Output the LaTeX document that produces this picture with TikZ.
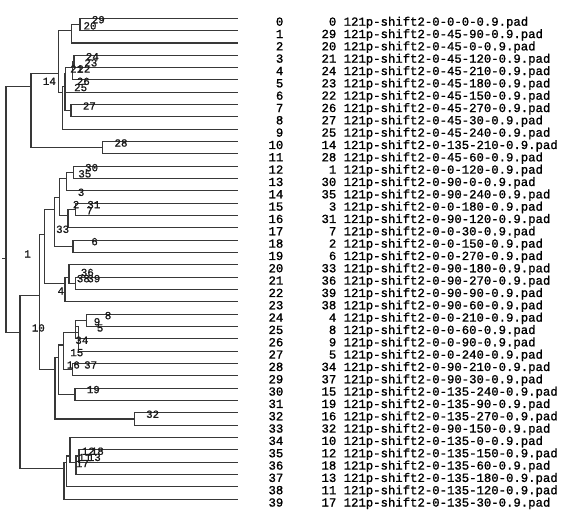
\documentclass[tikz,border=0pt]{standalone}
\usepackage{fontspec}
\setmonofont{Liberation Mono}[FakeBold=1.2]
\usepackage{tikz}

\tikzset{
    % Dendrogram lines
    branch/.style={
        draw=black!78,
        line width=1.1pt
    },
    % Leaf id written at each merge
    merge label/.style={
        anchor=base east,
        inner sep=0pt,
        text=black!90,
        font=\ttfamily\fontsize{10.8}{12}\selectfont
    },
    % Table on the right
    row index/.style={
        anchor=base east,
        inner sep=0pt,
        font=\ttfamily\fontsize{12.3}{14}\selectfont
    },
    row leaf/.style={
        row index
    },
    row file/.style={
        row index,
        anchor=base west
    }
}

\begin{document}
\begin{tikzpicture}[x=1pt, y=-12.33pt]
    \useasboundingbox (0pt,0pt) rectangle (568pt,-521pt);
    \begin{scope}[yshift=-18.3pt]
        % Leaves and their rows of text
        \foreach \row/\leaf/\fname in {
            0/0/121p-shift2-0-0-0-0.9.pad,
            1/29/121p-shift2-0-45-90-0.9.pad,
            2/20/121p-shift2-0-45-0-0.9.pad,
            3/21/121p-shift2-0-45-120-0.9.pad,
            4/24/121p-shift2-0-45-210-0.9.pad,
            5/23/121p-shift2-0-45-180-0.9.pad,
            6/22/121p-shift2-0-45-150-0.9.pad,
            7/26/121p-shift2-0-45-270-0.9.pad,
            8/27/121p-shift2-0-45-30-0.9.pad,
            9/25/121p-shift2-0-45-240-0.9.pad,
            10/14/121p-shift2-0-135-210-0.9.pad,
            11/28/121p-shift2-0-45-60-0.9.pad,
            12/1/121p-shift2-0-0-120-0.9.pad,
            13/30/121p-shift2-0-90-0-0.9.pad,
            14/35/121p-shift2-0-90-240-0.9.pad,
            15/3/121p-shift2-0-0-180-0.9.pad,
            16/31/121p-shift2-0-90-120-0.9.pad,
            17/7/121p-shift2-0-0-30-0.9.pad,
            18/2/121p-shift2-0-0-150-0.9.pad,
            19/6/121p-shift2-0-0-270-0.9.pad,
            20/33/121p-shift2-0-90-180-0.9.pad,
            21/36/121p-shift2-0-90-270-0.9.pad,
            22/39/121p-shift2-0-90-90-0.9.pad,
            23/38/121p-shift2-0-90-60-0.9.pad,
            24/4/121p-shift2-0-0-210-0.9.pad,
            25/8/121p-shift2-0-0-60-0.9.pad,
            26/9/121p-shift2-0-0-90-0.9.pad,
            27/5/121p-shift2-0-0-240-0.9.pad,
            28/34/121p-shift2-0-90-210-0.9.pad,
            29/37/121p-shift2-0-90-30-0.9.pad,
            30/15/121p-shift2-0-135-240-0.9.pad,
            31/19/121p-shift2-0-135-90-0.9.pad,
            32/16/121p-shift2-0-135-270-0.9.pad,
            33/32/121p-shift2-0-90-150-0.9.pad,
            34/10/121p-shift2-0-135-0-0.9.pad,
            35/12/121p-shift2-0-135-150-0.9.pad,
            36/18/121p-shift2-0-135-60-0.9.pad,
            37/13/121p-shift2-0-135-180-0.9.pad,
            38/11/121p-shift2-0-135-120-0.9.pad,
            39/17/121p-shift2-0-135-30-0.9.pad}{
            \coordinate (l\row) at (237.5,\row);
            \node[row index] (idx\row) at (283.5,\row+0.6) {\row};
            \node[row leaf] (leaf\row) at (336.5,\row+0.6) {\leaf};
            \node[row file] (file\row) at (343.5,\row+0.6) {\fname};
        }

        % Merge points, upper block
        \coordinate (n0-1) at (80,0.5);
        \coordinate (n0-2) at (71.7,1);
        \coordinate (n3-4) at (74,3.5);
        \coordinate (n3-5) at (72.5,4);
        \coordinate (n3-6) at (65.5,4.5);
        \coordinate (n7-8) at (71,7.5);
        \coordinate (n3-8) at (65,5.5);
        \coordinate (n3-9) at (62.3,6);
        \coordinate (n0-9) at (58.3,4.5);
        \coordinate (n10-11) at (102.7,10.5);
        \coordinate (n0-11) at (31,5.5);
        \coordinate (n0-39) at (6,19.5);
        \coordinate (stub) at (2,19.5);
        % Merge points, middle block
        \coordinate (n12-13) at (73.3,12.5);
        \coordinate (n12-14) at (66.5,13);
        \coordinate (n15-16) at (75.5,15.5);
        \coordinate (n15-17) at (68,16);
        \coordinate (n12-17) at (59.5,14.5);
        \coordinate (n18-19) at (73,18.5);
        \coordinate (n12-19) at (54.5,15.5);
        \coordinate (n21-22) at (75.5,21.5);
        \coordinate (n20-22) at (69,21);
        \coordinate (n20-23) at (65,21.5);
        \coordinate (n12-23) at (44.3,17.5);
        \coordinate (n24-25) at (86.5,24.5);
        \coordinate (n24-26) at (75.5,25);
        \coordinate (n24-27) at (78.5,25.5);
        \coordinate (n28-29) at (72.3,28.5);
        \coordinate (n24-29) at (63.5,26.5);
        \coordinate (n30-31) at (75,30.5);
        \coordinate (n24-31) at (58.5,27.5);
        \coordinate (n32-33) at (134.3,32.5);
        \coordinate (n24-33) at (55,28.5);
        \coordinate (n12-33) at (39.3,22.5);
        % Merge points, lower block
        \coordinate (n35-36) at (79,35.5);
        \coordinate (n35-37) at (76,36);
        \coordinate (n34-37) at (70,35.5);
        \coordinate (n34-38) at (66.5,36);
        \coordinate (n34-39) at (64,36.5);
        \coordinate (n12-39) at (20,25.5);

        % Branches
        \draw[branch] (stub) -- (n0-39);
        \foreach \p/\c in {
            n0-1/l0, n0-1/l1, n0-2/n0-1, n0-2/l2,
            n3-4/l3, n3-4/l4, n3-5/n3-4, n3-5/l5, n3-6/n3-5, n3-6/l6,
            n7-8/l7, n7-8/l8, n3-8/n3-6, n3-8/n7-8, n3-9/n3-8, n3-9/l9,
            n0-9/n0-2, n0-9/n3-9, n10-11/l10, n10-11/l11,
            n0-11/n0-9, n0-11/n10-11, n0-39/n0-11, n0-39/n12-39,
            n12-13/l12, n12-13/l13, n12-14/n12-13, n12-14/l14,
            n15-16/l15, n15-16/l16, n15-17/n15-16, n15-17/l17,
            n12-17/n12-14, n12-17/n15-17, n18-19/l18, n18-19/l19,
            n12-19/n12-17, n12-19/n18-19,
            n21-22/l21, n21-22/l22, n20-22/l20, n20-22/n21-22,
            n20-23/n20-22, n20-23/l23, n12-23/n12-19, n12-23/n20-23,
            n24-25/l24, n24-25/l25, n24-26/n24-25, n24-26/l26,
            n24-27/n24-26, n24-27/l27, n28-29/l28, n28-29/l29,
            n24-29/n24-27, n24-29/n28-29, n30-31/l30, n30-31/l31,
            n24-31/n24-29, n24-31/n30-31, n32-33/l32, n32-33/l33,
            n24-33/n24-31, n24-33/n32-33, n12-33/n12-23, n12-33/n24-33,
            n35-36/l35, n35-36/l36, n35-37/n35-36, n35-37/l37,
            n34-37/l34, n34-37/n35-37, n34-38/n34-37, n34-38/l38,
            n34-39/n34-38, n34-39/l39, n12-39/n12-33, n12-39/n34-39}
            \draw[branch] (\p) |- (\c);

        % Leaf ids at the merges
        \foreach \n/\t in {
            n0-1/29, n0-2/20, n3-4/24, n3-5/23, n3-6/22, n7-8/27,
            n3-8/26, n3-9/25, n0-9/21, n10-11/28, n0-11/14, n0-39/1,
            n12-13/30, n12-14/35, n15-16/31, n15-17/7, n12-17/3,
            n18-19/6, n12-19/2, n21-22/39, n20-22/36, n20-23/38,
            n12-23/33, n24-25/8, n24-26/9, n24-27/5, n28-29/37,
            n24-29/34, n30-31/19, n24-31/15, n32-33/32, n24-33/16,
            n12-33/4, n35-36/18, n35-37/13, n34-37/12, n34-38/11,
            n34-39/17, n12-39/10}
            \node[merge label] at ([shift={(25pt,1.2pt)}]\n) {\t};
    \end{scope}
\end{tikzpicture}
\end{document}
